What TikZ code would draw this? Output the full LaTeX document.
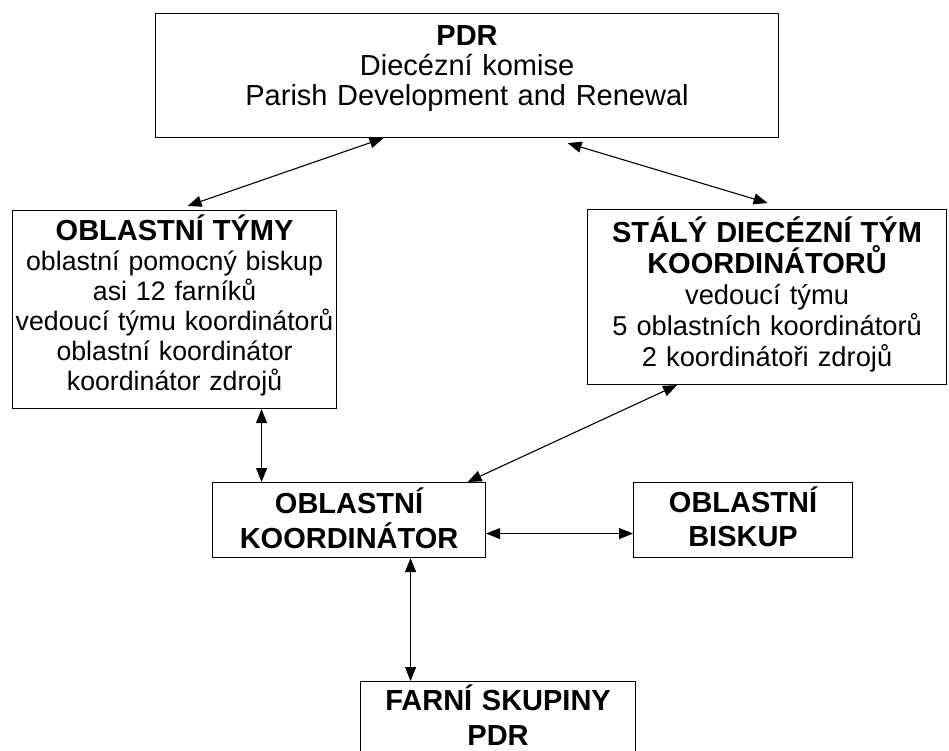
\documentclass[tikz,border=0pt]{standalone}
\usepackage{fontspec}
\setmainfont{Liberation Sans}
\usetikzlibrary{positioning, arrows.meta}
\newcommand{\headline}[1]{{\fontsize{29}{20}\selectfont\bfseries #1}}

\begin{document}
\begin{tikzpicture}
    [
        x=1pt, y=-1pt, inner sep=0pt,
        plain_box/.style={draw=black, line width=1.1pt, anchor=north west, align=center},
        head_box/.style={plain_box, font=\fontsize{29}{35}\selectfont\bfseries},
        link/.style={{Triangle[length=14pt, width=11pt]}-{Triangle[length=14pt, width=11pt]}, line width=1.1pt, color=black},
    ]
        \useasboundingbox (0,0) rectangle (949,751);
        \node[plain_box, text width=623pt, text height=32pt, text depth=92pt, font=\fontsize{29}{30}\selectfont] (pdr) at (155,13) {\textbf{PDR}\\Diecézní komise\\Parish Development and Renewal} ;
        \node[plain_box, text width=324pt, text height=30pt, text depth=168pt, font=\fontsize{26.7}{30}\selectfont] (teams) at (12,210) {\headline{OBLASTNÍ TÝMY}\\oblastní pomocný biskup\\asi 12 farníků\\vedoucí týmu koordinátorů\\oblastní koordinátor\\koordinátor zdrojů} ;
        \node[plain_box, text width=359pt, text height=33pt, text depth=142pt, font=\fontsize{27.3}{31}\selectfont] (staff) at (587,209) {\headline{STÁLÝ DIECÉZNÍ TÝM}\\\headline{KOORDINÁTORŮ}\\vedoucí týmu\\5 oblastních koordinátorů\\2 koordinátoři zdrojů} ;
        \node[head_box, text width=273pt, text height=31pt, text depth=44pt] (coord) at (212,482) {OBLASTNÍ\\KOORDINÁTOR} ;
        \node[head_box, text width=219pt, text height=30pt, text depth=45pt, font=\fontsize{29}{34}\selectfont\bfseries] (bishop) at (633,482) {OBLASTNÍ\\BISKUP} ;
        \node[head_box, text width=275pt, text height=29pt, text depth=61pt] (groups) at (360,681) {FARNÍ SKUPINY\\PDR} ;
        \draw[link] ([xshift=-83.5pt]pdr.south) -- ([xshift=13pt, yshift=4pt]teams.north) ;
        \draw[link] ([xshift=100.5pt, yshift=-5pt]pdr.south) -- ([xshift=0.5pt, yshift=6pt]staff.north) ;
        \draw[link] ([xshift=87pt]teams.south) -- ([xshift=-87.5pt]coord.north) ;
        \draw[link] ([xshift=-90pt]staff.south) -- ([xshift=118.5pt]coord.north) ;
        \draw[link] ([yshift=-13.5pt]coord.east) -- ([yshift=-13.5pt]bishop.west) ;
        \draw[link] ([xshift=61.5pt]coord.south) -- ([xshift=-87.5pt]groups.north) ;
    \end{tikzpicture}
\end{document}
